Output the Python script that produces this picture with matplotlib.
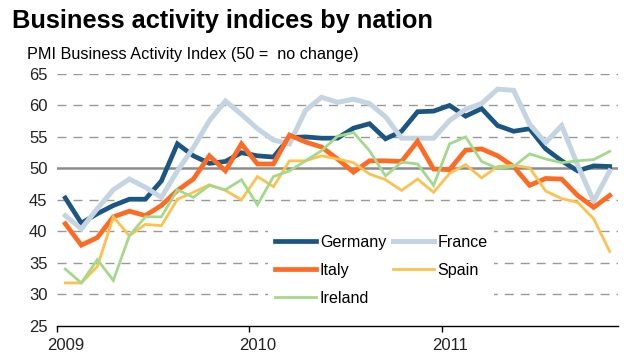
import numpy as np
import matplotlib
matplotlib.use('Agg')
import matplotlib.pyplot as plt

plt.rcParams['font.family'] = ['Liberation Sans', 'DejaVu Sans']

# monthly PMI readings, Jan 2009 .. Nov 2011
germany = [45.3, 41.3, 42.8, 44.1, 45.1, 45.1, 48.0, 53.9, 52.0, 50.8, 51.1, 52.5,
           52.0, 51.8, 54.9, 55.0, 54.8, 54.8, 56.4, 57.1, 54.7, 55.9, 59.0, 59.1,
           60.0, 58.3, 59.5, 56.8, 55.9, 56.3, 53.1, 51.2, 49.6, 50.4, 50.3]
france = [42.5, 40.4, 43.6, 46.6, 48.3, 47.0, 45.4, 49.6, 53.3, 57.6, 60.7, 58.6,
          56.3, 54.5, 53.9, 59.2, 61.3, 60.5, 61.0, 60.3, 58.2, 54.8, 54.8, 54.8,
          57.6, 59.4, 60.3, 62.6, 62.4, 57.0, 54.1, 56.8, 50.5, 44.8, 49.6]
italy = [41.2, 37.8, 39.0, 42.3, 43.2, 42.5, 44.1, 46.5, 48.3, 52.0, 49.6, 53.9,
         50.7, 50.7, 55.3, 54.2, 53.4, 51.5, 49.4, 51.2, 51.2, 51.1, 54.3, 49.9,
         49.8, 52.9, 53.1, 52.0, 50.3, 47.3, 48.4, 48.3, 45.7, 43.8, 45.7]
spain = [31.8, 31.8, 34.4, 42.3, 39.3, 41.1, 40.9, 45.1, 46.2, 47.4, 46.5, 45.0,
         48.7, 47.1, 51.2, 51.2, 52.0, 51.5, 50.9, 49.1, 48.2, 46.5, 48.3, 46.2,
         49.2, 50.6, 48.5, 50.3, 50.5, 50.1, 46.4, 45.2, 44.6, 42.0, 36.8]
ireland = [34.0, 31.8, 35.5, 32.2, 39.3, 42.3, 42.3, 46.6, 45.4, 47.3, 46.6, 48.2,
           44.2, 48.7, 49.6, 51.2, 52.8, 55.1, 55.7, 52.8, 48.8, 51.0, 50.7, 47.3,
           53.9, 55.0, 51.1, 50.0, 50.3, 52.3, 51.5, 50.9, 51.2, 51.4, 52.7]
years = ['2009', '2010', '2011']

months = np.arange(len(germany))

fig = plt.figure(figsize=(6.32, 3.63), dpi=100)
ax = fig.add_axes([57.3/632, 37.3/363, 560.4/632, 251.7/363])

# gridlines (dashed) and the 50 = no change line
for v in [30, 35, 40, 45, 55, 60, 65]:
    ax.axhline(v, color='#999999', lw=1.0, dashes=(6.5, 5), zorder=1)
ax.axhline(50, color='#8c8c8c', lw=1.8, zorder=1)

l_de, = ax.plot(months, germany, color='#1b5683', lw=3.4, label='Germany', zorder=3, solid_joinstyle='miter')
l_fr, = ax.plot(months, france, color='#c4d4e1', lw=3.6, label='France', zorder=3, solid_joinstyle='miter')
l_it, = ax.plot(months, italy, color='#ff6a22', lw=3.4, label='Italy', zorder=3, solid_joinstyle='miter')
l_es, = ax.plot(months, spain, color='#ffc04d', lw=2.0, label='Spain', zorder=3, solid_joinstyle='miter')
l_ie, = ax.plot(months, ireland, color='#a3d98a', lw=2.0, label='Ireland', zorder=3, solid_joinstyle='miter')

ax.set_ylim(25, 65)
ax.set_xlim(-0.5, len(germany) - 0.5)
ax.set_yticks(range(25, 70, 5))
ax.tick_params(axis='y', length=0, pad=7, labelsize=12, labelcolor='#222222')

# year boundaries as ticks, labels centred on January
ax.set_xticks([-0.5, 11.5, 23.5])
ax.set_xticklabels([])
ax.set_xticks([0, 12, 24], minor=True)
ax.set_xticklabels(years, minor=True)
ax.tick_params(axis='x', which='major', length=4.5, width=1, direction='out', color='black')
ax.tick_params(axis='x', which='minor', length=0, pad=9, labelsize=12, labelcolor='#222222')

for s in ['left', 'right', 'top']:
    ax.spines[s].set_visible(False)
ax.spines['bottom'].set_color('black')
ax.spines['bottom'].set_linewidth(1.0)

# row-wise order: Germany France / Italy Spain / Ireland
handles = [l_de, l_it, l_ie, l_fr, l_es]
leg = ax.legend(handles, [h.get_label() for h in handles], ncol=2, loc='upper left',
                bbox_to_anchor=(0.362, 0.418), fontsize=11.6,
                handlelength=2.55, handletextpad=0.25, columnspacing=0.4, labelspacing=0.8,
                frameon=True, borderpad=0.4)
leg.get_frame().set_facecolor('white')
leg.get_frame().set_edgecolor('none')
leg.get_frame().set_alpha(1)
leg.set_zorder(4)

fig.text(12/632, 1 - 28.3/363, 'Business activity indices by nation', fontsize=18.3,
         fontweight='bold', va='baseline', ha='left')
fig.text(26.7/632, 1 - 59.3/363, 'PMI Business Activity Index (50 =  no change)', fontsize=11.7,
         va='baseline', ha='left')

fig.savefig('out.png', dpi=100)
